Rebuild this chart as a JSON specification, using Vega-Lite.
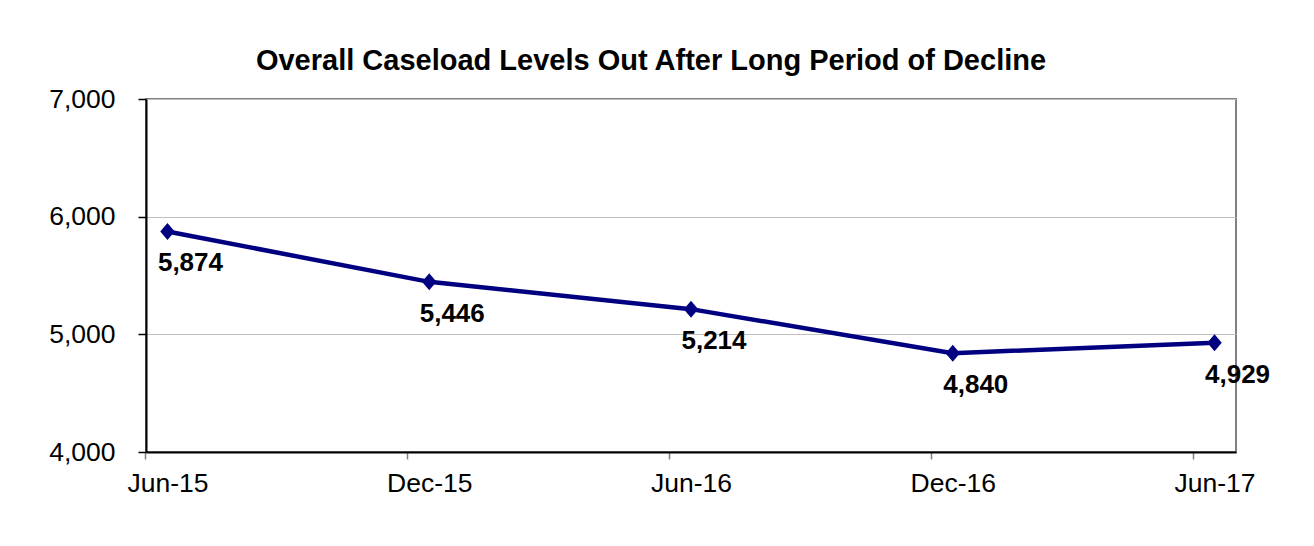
{
  "$schema": "https://vega.github.io/schema/vega-lite/v6.json",
  "autosize": "none",
  "width": 1090,
  "height": 353,
  "padding": {"left": 146, "top": 99, "right": 78, "bottom": 94},
  "background": "white",
  "title": {
    "text": "Overall Caseload Levels Out After Long Period of Decline",
    "font": "Liberation Sans",
    "fontSize": 29,
    "fontWeight": "bold",
    "color": "black",
    "anchor": "middle",
    "dx": -40,
    "offset": 10
  },
  "config": {
    "view": {"stroke": "#808080", "strokeWidth": 2},
    "font": "Liberation Sans"
  },
  "data": {
    "values": [
      {"period": "Jun-15", "value": 5874},
      {"period": "Dec-15", "value": 5446},
      {"period": "Jun-16", "value": 5214},
      {"period": "Dec-16", "value": 4840},
      {"period": "Jun-17", "value": 4929}
    ]
  },
  "encoding": {
    "x": {
      "field": "period",
      "type": "ordinal",
      "sort": null,
      "scale": {"type": "point", "padding": 0.082},
      "axis": {
        "title": null,
        "labelAngle": 0,
        "grid": false,
        "domainColor": "black",
        "domainWidth": 2,
        "tickColor": "#808080",
        "tickWidth": 1.5,
        "tickSize": 7,
        "tickOffset": -22,
        "labelOffset": 22,
        "labelPadding": 11.5,
        "labelFont": "Liberation Sans",
        "labelFontSize": 26.5,
        "labelColor": "black"
      }
    },
    "y": {
      "field": "value",
      "type": "quantitative",
      "scale": {"domain": [4000, 7000], "nice": false, "zero": false},
      "axis": {
        "title": null,
        "values": [4000, 5000, 6000, 7000],
        "format": ",.0f",
        "domainColor": "black",
        "domainWidth": 2,
        "tickColor": "black",
        "tickWidth": 1.5,
        "tickSize": 8,
        "labelPadding": 23,
        "labelFont": "Liberation Sans",
        "labelFontSize": 26.5,
        "labelColor": "black",
        "gridColor": "#c0c0c0",
        "gridWidth": 1
      }
    }
  },
  "layer": [
    {"mark": {"type": "line", "color": "#000080", "strokeWidth": 4.5}},
    {"mark": {"type": "point", "shape": "M-0.85,0L0,-1L0.85,0L0,1Z", "size": 289, "filled": true, "color": "#000080", "opacity": 1}},
    {
      "mark": {"type": "text", "dx": 23, "dy": 19, "baseline": "top", "align": "center", "font": "Liberation Sans", "fontSize": 26, "fontWeight": "bold", "color": "black"},
      "encoding": {"text": {"field": "value", "type": "quantitative", "format": ",.0f"}}
    }
  ]
}
